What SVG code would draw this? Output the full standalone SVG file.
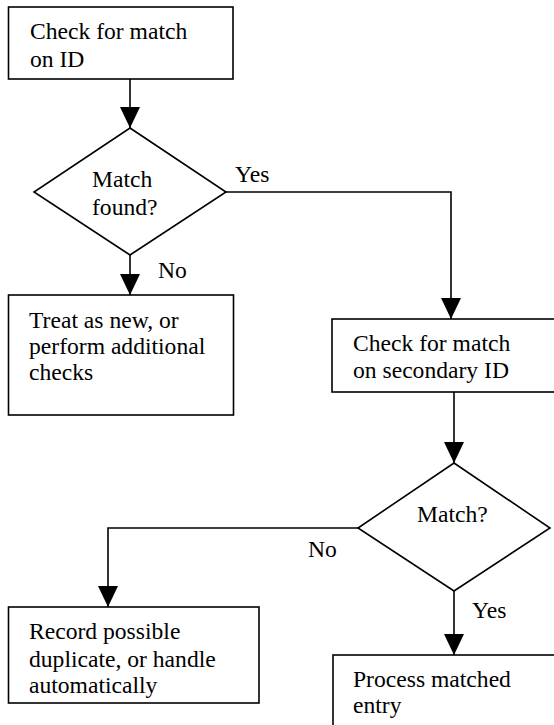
<svg xmlns="http://www.w3.org/2000/svg" width="554" height="725" viewBox="0 0 554 725">
<style>
.box{fill:#fff;stroke:#000;stroke-width:1.6}
.dia{fill:#fff;stroke:#000;stroke-width:1.6}
.con{fill:none;stroke:#000;stroke-width:1.6;marker-end:url(#ah)}
text{font-family:'Liberation Serif','Times New Roman',serif;font-size:23.6px;fill:#000}
</style>
<defs>
<marker id="ah" markerUnits="userSpaceOnUse" markerWidth="21" markerHeight="20" refX="21" refY="10" orient="auto">
<path d="M0,0 L21,10 L0,20 z" fill="#000"/>
</marker>
</defs>
<rect width="554" height="725" fill="#fff"/>
<g font-family="Liberation Serif, Times New Roman, serif">
<g id="connectors">
<path class="con" d="M130,79 V128"/>
<path class="con" d="M226,192 H451 V319"/>
<path class="con" d="M130,255 V295"/>
<path class="con" d="M454,392 V463"/>
<path class="con" d="M358,528 H108 V607"/>
<path class="con" d="M454,591 V655"/>
<text x="235" y="182">Yes</text>
<text x="158" y="278">No</text>
<text x="308" y="557">No</text>
<text x="472" y="618">Yes</text>
</g>
<g id="n1">
<rect class="box" x="8.5" y="7" width="224.5" height="72"/>
<text x="30" y="39">Check for match</text>
<text x="30" y="67">on ID</text>
</g>
<g id="d1">
<polygon class="dia" points="130,128 226,192 130,255 34,192"/>
<text x="92" y="187">Match</text>
<text x="92" y="215">found?</text>
</g>
<g id="n2">
<rect class="box" x="8.5" y="295" width="225" height="120"/>
<text x="29" y="328">Treat as new, or</text>
<text x="29" y="354">perform additional</text>
<text x="29" y="380">checks</text>
</g>
<g id="n3">
<rect class="box" x="332" y="319" width="240" height="73"/>
<text x="353" y="351">Check for match</text>
<text x="353" y="378">on secondary ID</text>
</g>
<g id="d2">
<polygon class="dia" points="454,463 550,528 454,591 358,528"/>
<text x="417" y="522">Match?</text>
</g>
<g id="n4">
<rect class="box" x="8.5" y="607" width="250.5" height="96"/>
<text x="29" y="639">Record possible</text>
<text x="29" y="667">duplicate, or handle</text>
<text x="29" y="693">automatically</text>
</g>
<g id="n5">
<rect class="box" x="333" y="655" width="240" height="100"/>
<text x="353" y="687">Process matched</text>
<text x="353" y="713">entry</text>
</g>
</g>
</svg>
